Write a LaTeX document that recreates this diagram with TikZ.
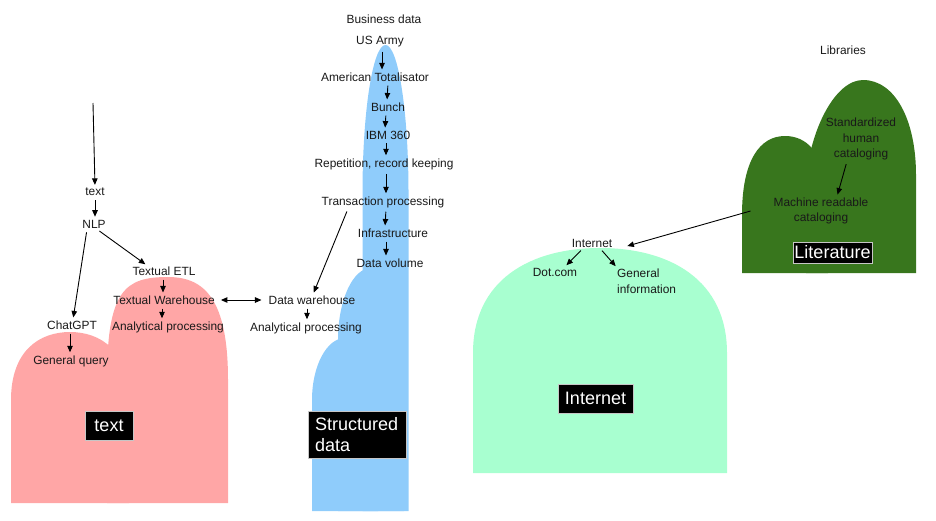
\documentclass[tikz,border=0pt]{standalone}
\usepackage{fontspec}
\setmainfont{Liberation Sans}
\usetikzlibrary{arrows.meta}
\definecolor{pinkc}{RGB}{255,166,166}
\definecolor{bluec}{RGB}{143,204,251}
\definecolor{mintc}{RGB}{168,255,208}
\definecolor{greenc}{RGB}{56,118,29}
\begin{document}
\begin{tikzpicture}[x=1pt,y=-1pt,
  lbl/.style={font=\fontsize{11.9}{15.5}\selectfont, inner sep=1pt, align=center, text=black!90},
  arr/.style={-{Triangle[length=6.5pt,width=5.5pt]}, line width=0.9pt, shorten <=3pt, shorten >=2pt},
  darr/.style={{Triangle[length=6.5pt,width=5.5pt]}-{Triangle[length=6.5pt,width=5.5pt]}, line width=0.9pt},
  bigbox/.style={fill=black, draw=gray!45, line width=0.6pt, text=white, font=\fontsize{18}{20.5}\selectfont, inner sep=0pt}
]
\useasboundingbox (0,0) rectangle (936,520);

% pink shape
\fill[pinkc] (11,503) -- (11,400) .. controls (11,350) and (40,332) .. (70,332) .. controls (100,332) and (129,350) .. (129,400) -- (129,503) -- cycle;
\fill[pinkc] (107,503) -- (107,380) .. controls (107,290) and (125,277) .. (168,277) .. controls (205,277) and (228,300) .. (228,380) -- (228,503) -- cycle;

% blue shape
\fill[bluec] (362.5,511) -- (362.5,193) .. controls (362.5,111.3) and (372.8,45) .. (385.5,45) .. controls (398.2,45) and (408.5,111.3) .. (408.5,193) -- (408.5,511) -- cycle;
\fill[bluec] (338,511) -- (338,340) .. controls (338,300.3) and (352.8,268) .. (371,268) .. controls (389.2,268) and (404,300.3) .. (404,340) -- (404,511) -- cycle;
\fill[bluec] (312,511) -- (312,400) .. controls (312,365.8) and (326.8,338) .. (345,338) .. controls (363.2,338) and (378,365.8) .. (378,400) -- (378,511) -- cycle;

% mint shape
\fill[mintc] (473,473) -- (473,353) .. controls (473,280) and (530,248) .. (600,248) .. controls (670,248) and (727,280) .. (727,353) -- (727,473) -- cycle;

% green shape
\fill[greenc] (742,273) -- (742,215) .. controls (742,160) and (760,136) .. (785,136) .. controls (805,136) and (825,150) .. (828,200) -- (828,273) -- cycle;
\fill[greenc] (806,273) -- (806,180) .. controls (810,130) and (835,80) .. (863,80) .. controls (895,80) and (916,120) .. (916,175) -- (916,273) -- cycle;

% big labels
\node[bigbox, minimum width=48pt, minimum height=29pt] (textbox) at (109,425.5) {text};
\node[bigbox, minimum height=47pt, text width=84pt, inner xsep=7pt, align=left] (sdbox) at (357,434.5) {Structured\\data};
\node[bigbox, minimum width=75pt, minimum height=29pt] (inetbox) at (595.5,398.5) {Internet};
\node[bigbox, minimum width=79pt, minimum height=21pt] (litbox) at (832.5,252.5) {Literature};

% left (text) labels
\coordinate (top) at (93,103);
\node[lbl] (txt) at (95,192) {text};
\node[lbl] (nlp) at (94,224) {NLP};
\node[lbl] (etl) at (164,271) {Textual ETL};
\node[lbl] (tw) at (164,300) {Textual Warehouse};
\node[lbl] (ap1) at (168,327) {Analytical processing};
\node[lbl] (chat) at (72,325) {ChatGPT};
\node[lbl] (gq) at (71,361) {General query};

% structured labels
\node[lbl] (bd) at (384,19) {Business data};
\node[lbl] (usa) at (380,42) {US Army};
\node[lbl] (amt) at (375,77) {American Totalisator};
\node[lbl] (bunch) at (388,107) {Bunch};
\node[lbl] (ibm) at (388,135) {IBM 360};
\node[lbl] (rep) at (384,164) {Repetition, record keeping};
\node[lbl] (trans) at (383,202) {Transaction processing};
\node[lbl] (infra) at (393,233) {Infrastructure};
\node[lbl] (dvol) at (390,263) {Data volume};
\node[lbl] (dw) at (312,300) {Data warehouse};
\node[lbl] (ap2) at (306,328) {Analytical processing};

% internet labels
\node[lbl] (inet) at (592,243) {Internet};
\node[lbl] (dot) at (555,272) {Dot.com};
\node[lbl, anchor=west, align=left] (gi) at (616,281) {General\\information};

% libraries labels
\node[lbl] (lib) at (843,50) {Libraries};
\node[lbl] (std) at (861,139) {Standardized\\human\\cataloging};
\node[lbl] (mrc) at (821,211) {Machine readable\\cataloging};

% arrows: text side
\draw[arr, shorten <=0pt] (top) -- (txt.north -| 95,0);
\draw[arr] (txt.south -| 95,0) -- (nlp.north -| 95,0);
\draw[arr] (nlp.south -| 97,0) -- (etl.north -| 147,0);
\draw[arr] (nlp.south -| 87,0) -- (chat.north -| 73,0);
\draw[arr] (etl.south -| 163,0) -- (tw.north -| 163,0);
\draw[arr] (tw.south -| 162,0) -- (ap1.north -| 162,0);
\draw[arr] (chat.south -| 70,0) -- (gq.north -| 70,0);
\draw[darr, shorten <=5pt, shorten >=6pt] (tw.east) -- (dw.west);

% arrows: structured side
\draw[arr] (usa.south -| 382,0) -- (amt.north -| 382,0);
\draw[arr] (amt.south -| 388,0) -- (bunch.north -| 387,0);
\draw[arr] (bunch.south -| 386,0) -- (ibm.north -| 385,0);
\draw[arr] (ibm.south -| 386,0) -- (rep.north -| 386,0);
\draw[arr] (rep.south -| 386,0) -- (trans.north -| 386,0);
\draw[arr] (trans.south -| 386,0) -- (infra.north -| 385,0);
\draw[arr] (infra.south -| 386,0) -- (dvol.north -| 386,0);
\draw[arr] (trans.south -| 348,0) -- (dw.north -| 313,0);
\draw[arr] (dw.south -| 307,0) -- (ap2.north -| 307,0);

% arrows: internet / libraries
\draw[arr] (inet.south -| 583,0) -- (dot.north -| 565,0);
\draw[arr] (inet.south -| 600,0) -- (gi.north -| 617,0);
\draw[arr] (std.south -| 847,0) -- (mrc.north -| 837,0);
\draw[arr, shorten <=0pt, shorten >=0pt] ([xshift=-22pt]mrc.west) -- ([xshift=14pt,yshift=-3pt]inet.east);
\end{tikzpicture}
\end{document}
